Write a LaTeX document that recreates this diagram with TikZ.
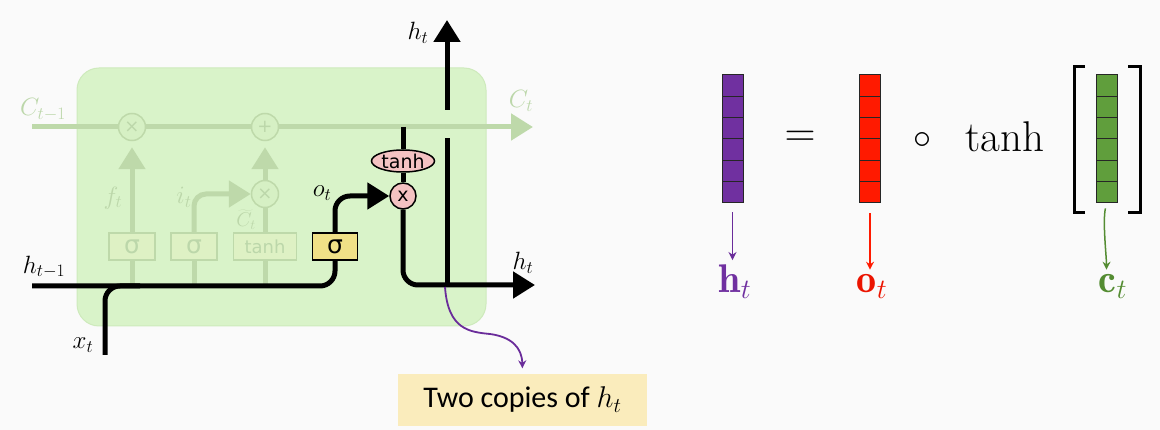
\RequirePackage{fix-cm}
\documentclass[tikz,border=0pt]{standalone}
\usepackage{fontspec}
\newfontfamily\dejavu{DejaVu Sans}
\newfontfamily\carlito{Carlito}
\usetikzlibrary{arrows.meta,shapes.geometric}
\definecolor{bgc}{RGB}{250,250,250}
\definecolor{greenbg}{RGB}{217,243,201}
\definecolor{greenedge}{RGB}{206,234,188}
\definecolor{fadedc}{RGB}{190,217,170}
\definecolor{fadetext}{RGB}{188,215,170}
\definecolor{fadefill}{RGB}{214,240,196}
\definecolor{fadeboxfill}{RGB}{222,241,196}
\definecolor{ysig}{RGB}{240,225,135}
\definecolor{pinkc}{RGB}{244,194,194}
\definecolor{copyfill}{RGB}{250,236,188}
\definecolor{vpurple}{RGB}{112,48,160}
\definecolor{vred}{RGB}{255,26,0}
\definecolor{vgreen}{RGB}{96,158,60}
\definecolor{apurple}{RGB}{106,44,154}
\definecolor{lred}{RGB}{235,20,0}
\definecolor{lgreen}{RGB}{84,140,50}
\begin{document}
\begin{tikzpicture}[x=1pt,y=-1pt,
  mainline/.style={line width=5pt,black},
  fadeline/.style={line width=5pt,fadedc},
  bigtip/.style={-{Triangle[length=22pt,width=26pt]}},
  fadetip/.style={-{Triangle[length=22pt,width=26pt,fill=fadedc]}},
  fcirc/.style={circle,draw=fadedc,line width=1.5pt,fill=fadefill,minimum size=27pt,inner sep=0pt,text=fadetext,font=\dejavu\fontsize{18}{20}\selectfont},
  fbox/.style={rectangle,draw=fadedc,line width=1.5pt,fill=fadeboxfill,minimum height=27pt,inner sep=0pt,text=fadetext,font=\dejavu\fontsize{25}{27}\selectfont},
  lbl/.style={font=\fontsize{25}{27}\selectfont,inner sep=0pt},
  flbl/.style={lbl,text=fadetext},
  vec/.style={draw=black!85,line width=1pt,minimum width=21pt,minimum height=128pt,inner sep=0pt},
  bigtxt/.style={font=\fontsize{43}{47}\selectfont,inner sep=0pt},
  vlbl/.style={font=\fontsize{40}{44}\selectfont,inner sep=0pt,anchor=base},
  smalltip/.style={-{Stealth[length=8pt,width=8pt]}},
]
\fill[bgc] (0,0) rectangle (1160,430);
\useasboundingbox (0,0) rectangle (1160,430);

% cell background
\filldraw[fill=greenbg,draw=greenedge,line width=1pt,rounded corners=22pt] (77,68) rectangle (486,326);

% coordinates
\coordinate (cin) at (32,127);
\coordinate (cout) at (533,127);
\coordinate (hin) at (32,286);
\coordinate (xin) at (105,355);
\coordinate (xj) at (140,286);
\coordinate (hout) at (535,285);
\coordinate (htop) at (447,20);
\coordinate (hjoin) at (447,285);
\coordinate (gapbot) at (447,138);
\coordinate (gaptop) at (447,110);
\coordinate (ctop) at (403,127);
\coordinate (pstart) at (445,287);

% faded nodes
\node[fcirc] (fx1) at (132,127) {×};
\node[fcirc] (fplus) at (265,127) {+};
\node[fcirc] (fx2) at (265,194) {×};
\node[fbox,minimum width=46pt] (s1) at (132,246.5) {σ};
\node[fbox,minimum width=46pt] (s2) at (194,246.5) {σ};
\node[fbox,minimum width=63pt,font=\dejavu\fontsize{18}{20}\selectfont] (st) at (265,246.5) {tanh};

% faded lines
\draw[fadeline] (cin) -- (fx1.west);
\draw[fadeline] (fx1.east) -- (fplus.west);
\draw[fadeline,fadetip] (fplus.east) -- (cout);
\draw[fadeline] (s1.south |- hin) -- (s1.south);
\draw[fadeline,fadetip,shorten >=6pt] (s1.north) -- (fx1.south);
\draw[fadeline] (s2.south |- hin) -- (s2.south);
\draw[fadeline,fadetip,rounded corners=12pt] (s2.north) |- (fx2.west);
\draw[fadeline] (st.south |- hin) -- (st.south);
\draw[fadeline] (st.north) -- (fx2.south);
\draw[fadeline,fadetip,shorten >=6pt] (fx2.north) -- (fplus.south);

% faded labels
\node[flbl] (lct1) at (43,110) {$C_{t-1}$};
\node[flbl] (lct) at (521,101) {$C_t$};
\node[flbl] (lft) at (113,198) {$f_t$};
\node[flbl] (lit) at (184,197) {$i_t$};
\node[flbl,font=\fontsize{20}{22}\selectfont] (lctil) at (246,220) {$\widetilde{C}_t$};

% active nodes
\node[rectangle,draw=black,line width=1.5pt,fill=ysig,minimum width=45pt,minimum height=27pt,inner sep=0pt,font=\dejavu\fontsize{25}{27}\selectfont] (s4) at (335,246.5) {σ};
\node[ellipse,draw=black,line width=1.5pt,fill=pinkc,minimum width=63pt,minimum height=22pt,inner sep=0pt,font=\dejavu\fontsize{19}{21}\selectfont] (th) at (403,161) {tanh};
\node[circle,draw=black,line width=1.5pt,fill=pinkc,minimum size=26pt,inner sep=0pt,font=\dejavu\fontsize{19}{21}\selectfont] (mul) at (403,196) {x};

% active lines
\draw[mainline,rounded corners=15pt] (hin) -| (s4.south);
\draw[mainline,rounded corners=15pt] (xin) |- (xj);
\draw[mainline,bigtip,rounded corners=15pt] (s4.north) |- (mul.west);
\draw[mainline] (ctop) -- (th.north);
\draw[mainline] (th.south) -- (mul.north);
\draw[mainline,bigtip,rounded corners=15pt] (mul.south) |- (hout);
\draw[mainline] (hjoin) -- (gapbot);
\draw[mainline,bigtip] (gaptop) -- (htop);

% labels
\node[lbl] (lht) at (418,33) {$h_t$};
\node[lbl] (lhr) at (523,263) {$h_t$};
\node[lbl] (lot) at (322,193) {$o_t$};
\node[lbl] (lhp) at (44,267) {$h_{t-1}$};
\node[lbl] (lxt) at (83,345) {$x_t$};

% two copies note
\node[rectangle,fill=copyfill,minimum width=249pt,minimum height=51pt,inner sep=0pt,font=\carlito\fontsize{30}{34}\selectfont] (copies) at (522.5,400) {Two copies of $h_t$};
\draw[apurple,line width=1.8pt,smalltip,shorten >=6pt] (pstart) .. controls (448,330) and (470,332) .. (490,334) .. controls (512,337) and (522,348) .. (copies.north);

% right side: vectors
\node[vec,fill=vpurple] (hv) at (732.5,139) {};
\node[vec,fill=vred] (ov) at (870,139) {};
\node[vec,fill=vgreen] (cv) at (1106.5,139) {};
\foreach \xa/\xb in {722/743,859.5/880.5,1096/1117}{
  \foreach \i in {1,...,5}{
    \draw[black!85,line width=1pt] (\xa,{75+\i*21.333}) -- (\xb,{75+\i*21.333});
  }
}
\node[bigtxt] (eq) at (800,139) {$=$};
\node[font=\fontsize{36}{40}\selectfont,inner sep=0pt] (circ) at (922,141) {$\circ$};
\node[bigtxt,anchor=base west] (tanhw) at (965,152) {tanh};
\draw[black,line width=3pt] (1085,67) -- (1074,67) -- (1074,213) -- (1085,213);
\draw[black,line width=3pt] (1128,67) -- (1140,67) -- (1140,213) -- (1128,213);

% vector labels
\node[vlbl,text=vpurple] (hl) at (735,293) {$\mathbf{h}_t$};
\node[vlbl,text=lred] (ol) at (872,293) {$\mathbf{o}_t$};
\node[vlbl,text=lgreen] (cl) at (1113,293) {$\mathbf{c}_t$};

\draw[apurple,line width=1.5pt,smalltip,shorten <=9pt,shorten >=5pt] (hv.south) -- (hv.south |- hl.north);
\draw[vred,line width=1.5pt,smalltip,shorten <=10pt,shorten >=5pt] (ov.south) -- (ov.south |- ol.north);
\draw[lgreen,line width=1.5pt,smalltip,shorten <=5pt,shorten >=5pt] (cv.south) .. controls +(-4,18) and +(0,-18) .. (cv.south |- cl.north);
\end{tikzpicture}
\end{document}
